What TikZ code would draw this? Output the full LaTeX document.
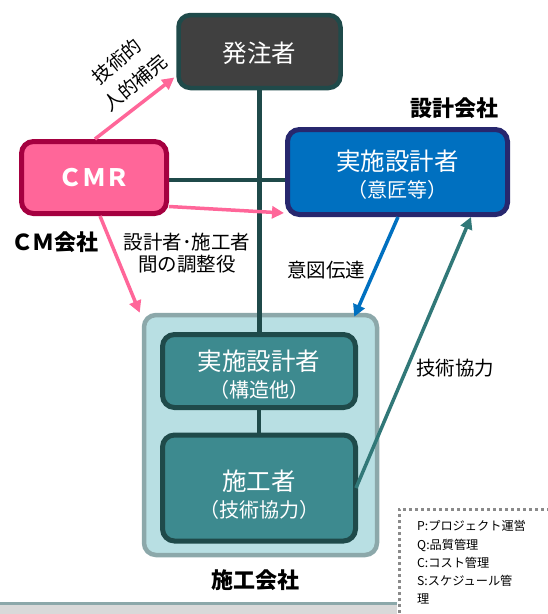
\documentclass[tikz,border=0pt]{standalone}
\usepackage{fontspec}
\setmainfont{Noto Sans CJK JP}
\newfontfamily\jp{Noto Sans CJK JP}
\usetikzlibrary{arrows.meta,calc}
\pgfdeclarelayer{back}
\pgfdeclarelayer{mid}
\pgfsetlayers{back,mid,main}
\definecolor{darkteal}{HTML}{1F4A4A}
\definecolor{boxgray}{HTML}{404040}
\definecolor{pinkfill}{HTML}{FF6699}
\definecolor{crimson}{HTML}{A50040}
\definecolor{bluefill}{HTML}{0070C0}
\definecolor{navy}{HTML}{27276E}
\definecolor{tealfill}{HTML}{3D8A8F}
\definecolor{tealarrow}{HTML}{317878}
\definecolor{lightcyan}{HTML}{B8DFE3}
\definecolor{cyanborder}{HTML}{8CA8AA}
\definecolor{bandgray}{HTML}{D9D9D9}
\definecolor{dotgray}{HTML}{8A8A8A}
\newcommand{\fs}[2]{\fontsize{#1}{#2}\selectfont}
\newcommand{\lift}[1]{\rule{0pt}{#1}}
\tikzset{
  box/.style={rounded corners=12pt, line width=5pt, inner sep=0pt, align=center, text=white,
    font=\jp\fs{24.5}{27}},
  conn/.style={draw=darkteal, line width=4.5pt},
  harrow/.style={line width=3.5pt, -{Triangle[length=12pt,width=12pt]}},
  lbl/.style={text=black, align=center, inner sep=0pt, font=\jp\fs{19.5}{22}},
  blbl/.style={text=black, font=\jp\bfseries\fs{22}{24}, inner sep=0pt},
}
\begin{document}
\begin{tikzpicture}[x=1pt,y=-1pt]
\useasboundingbox (0,0) rectangle (547,614);
% bottom band
\fill[bandgray] (0,604) rectangle (397,614);
\draw[cyanborder, line width=3pt] (0,603) -- (397,603);
% legend box
\draw[dotgray, line width=3pt, dash pattern=on 3pt off 3pt] (399,625) -- (399,509) -- (560,509);
\node[lbl, anchor=north west, align=left, font=\jp\fs{12.2}{18.2}] (legend) at (417,520.5) {%
P:プロジェクト運営\\Q:品質管理\\C:コスト管理\\S:スケジュール管\\理};
% boxes
\begin{pgfonlayer}{back}
\node[box, fill=lightcyan, draw=cyanborder, line width=4.5pt, minimum width=233pt, minimum height=240pt] (outer) at (260.5,435) {};
\end{pgfonlayer}
\node[box, fill=boxgray, draw=darkteal, line width=4.5pt, minimum width=162pt, minimum height=73pt] (hatchu) at (259.5,51.5) {\lift{24pt}発注者};
\node[box, fill=tealfill, draw=darkteal, minimum width=193pt, minimum height=73pt] (kozo) at (259,371) {\lift{27.5pt}実施設計者\\{\fs{20}{22}（構造他）}};
\node[box, fill=tealfill, draw=darkteal, minimum width=193pt, minimum height=106pt] (seko) at (259,488) {\lift{33.5pt}施工者\\{\fs{20}{22}（技術協力）}};
\node[box, fill=pinkfill, draw=crimson, minimum width=145pt, minimum height=72pt, font=\jp\bfseries\fs{24}{26}] (cmr) at (94,177.5) {ＣＭＲ};
\node[box, fill=bluefill, draw=navy, minimum width=220pt, minimum height=85pt] (sekkei) at (397.5,172) {\lift{25.5pt}実施設計者\\{\fs{20}{22}（意匠等）}};
% connectors
\begin{pgfonlayer}{mid}
\draw[conn] (hatchu.south) -- (kozo.north -| hatchu.south);
\draw[conn] (kozo.south) -- (seko.north);
\draw[conn] (cmr.east |- 0,180) -- (sekkei.west |- 0,180);
\end{pgfonlayer}
% arrows
\draw[harrow, draw=pinkfill] ($(cmr.north)+(1,0)$) -- ($(hatchu.west)+(-2,26)$);
\draw[harrow, draw=pinkfill] ($(cmr.east)+(0,29)$) -- ($(sekkei.west)+(-1,41)$);
\draw[harrow, draw=pinkfill] ($(cmr.south)+(6,0)$) -- ($(outer.north west)+(-2,0)$);
\draw[harrow, draw=bluefill] ($(sekkei.south)+(0.5,0)$) -- ($(outer.north east)+(-25,4)$);
\draw[harrow, draw=tealarrow] ($(seko.east)+(-2,0)$) -- ($(sekkei.south)+(73.5,0)$);
% labels
\node[lbl, font=\jp\fs{19}{28}, rotate=40] (l1) at (126,72) {技術的\\人的補完};
\node[lbl] (l2) at (187,253) {設計者･施工者\\間の調整役};
\node[lbl] (l3) at (326,270) {意図伝達};
\node[lbl] (l4) at (455,368) {技術協力};
\node[blbl] (c1) at (454,108) {設計会社};
\node[blbl] (c2) at (55,242) {ＣＭ会社};
\node[blbl] (c3) at (255,580) {施工会社};
\end{tikzpicture}
\end{document}
